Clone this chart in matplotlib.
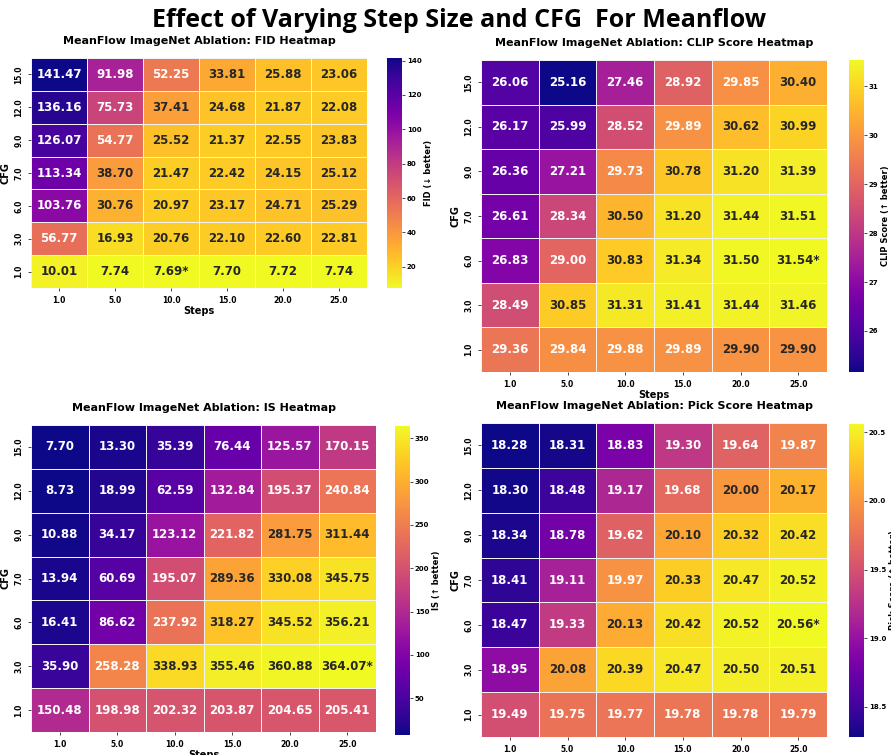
import numpy as np
import matplotlib
matplotlib.use('Agg')
import matplotlib.pyplot as plt
import seaborn as sns

steps = [1.0, 5.0, 10.0, 15.0, 20.0, 25.0]
cfgs = [15.0, 12.0, 9.0, 7.0, 6.0, 3.0, 1.0]

fid = [[141.47, 91.98, 52.25, 33.81, 25.88, 23.06],
       [136.16, 75.73, 37.41, 24.68, 21.87, 22.08],
       [126.07, 54.77, 25.52, 21.37, 22.55, 23.83],
       [113.34, 38.70, 21.47, 22.42, 24.15, 25.12],
       [103.76, 30.76, 20.97, 23.17, 24.71, 25.29],
       [56.77, 16.93, 20.76, 22.10, 22.60, 22.81],
       [10.01, 7.74, 7.69, 7.70, 7.72, 7.74]]

clip = [[26.06, 25.16, 27.46, 28.92, 29.85, 30.40],
        [26.17, 25.99, 28.52, 29.89, 30.62, 30.99],
        [26.36, 27.21, 29.73, 30.78, 31.20, 31.39],
        [26.61, 28.34, 30.50, 31.20, 31.44, 31.51],
        [26.83, 29.00, 30.83, 31.34, 31.50, 31.54],
        [28.49, 30.85, 31.31, 31.41, 31.44, 31.46],
        [29.36, 29.84, 29.88, 29.89, 29.90, 29.90]]

inception = [[7.70, 13.30, 35.39, 76.44, 125.57, 170.15],
             [8.73, 18.99, 62.59, 132.84, 195.37, 240.84],
             [10.88, 34.17, 123.12, 221.82, 281.75, 311.44],
             [13.94, 60.69, 195.07, 289.36, 330.08, 345.75],
             [16.41, 86.62, 237.92, 318.27, 345.52, 356.21],
             [35.90, 258.28, 338.93, 355.46, 360.88, 364.07],
             [150.48, 198.98, 202.32, 203.87, 204.65, 205.41]]

pick = [[18.28, 18.31, 18.83, 19.30, 19.64, 19.87],
        [18.30, 18.48, 19.17, 19.68, 20.00, 20.17],
        [18.34, 18.78, 19.62, 20.10, 20.32, 20.42],
        [18.41, 19.11, 19.97, 20.33, 20.47, 20.52],
        [18.47, 19.33, 20.13, 20.42, 20.52, 20.56],
        [18.95, 20.08, 20.39, 20.47, 20.50, 20.51],
        [19.49, 19.75, 19.77, 19.78, 19.78, 19.79]]

W, H = 891, 755
fig = plt.figure(figsize=(W / 100, H / 100), dpi=100)


def box(x0, y0, x1, y1):
    return [x0 / W, 1 - y1 / H, (x1 - x0) / W, (y1 - y0) / H]


def labels(data, best):
    arr = np.array(data)
    out = np.array([[f'{v:.2f}' for v in row] for row in arr], dtype=object)
    if best == 'min':
        i, j = np.unravel_index(arr.argmin(), arr.shape)
    else:
        i, j = np.unravel_index(arr.argmax(), arr.shape)
    out[i, j] = out[i, j] + '*'
    return out


panels = [
    (fid, 'plasma_r', 'min', 'FID Heatmap', 'FID (↓ better)', (31, 58, 367, 288), (387, 58, 402, 288)),
    (clip, 'plasma', 'max', 'CLIP Score Heatmap', 'CLIP Score (↑ better)', (481, 60, 827, 372), (849, 60, 864, 372)),
    (inception, 'plasma', 'max', 'IS Heatmap', 'IS (↑ better)', (31, 425, 376, 732), (395, 426, 410, 735)),
    (pick, 'plasma', 'max', 'Pick Score Heatmap', 'Pick Score (↑ better)', (481, 423, 827, 737), (849, 424, 864, 737)),
]

for data, cmap, best, name, cb_label, hb, cb in panels:
    ax = fig.add_axes(box(*hb))
    cax = fig.add_axes(box(*cb))
    sns.heatmap(np.array(data), ax=ax, cbar_ax=cax, cmap=cmap,
                annot=labels(data, best), fmt='',
                annot_kws={'fontsize': 8.5, 'fontweight': 'bold'},
                linewidths=0.6, linecolor='#f2f2f2',
                xticklabels=steps, yticklabels=cfgs)
    ax.set_title(f'MeanFlow ImageNet Ablation: {name}', fontsize=8, fontweight='bold', pad=10)
    ax.set_xlabel('Steps', fontsize=7, fontweight='bold', labelpad=1)
    ax.set_ylabel('CFG', fontsize=7, fontweight='bold', labelpad=3)
    ax.tick_params(axis='both', labelsize=5.5, length=2, width=0.5)
    for t in ax.get_xticklabels():
        t.set_fontweight('bold')
        t.set_rotation(0)
    for t in ax.get_yticklabels():
        t.set_fontweight('bold')
        t.set_rotation(90)
        t.set_va('center')
    cax.tick_params(labelsize=5, length=2, width=0.5, pad=1.5)
    for t in cax.get_yticklabels():
        t.set_fontweight('bold')
    cax.set_ylabel(cb_label, fontsize=6, fontweight='bold', labelpad=2)
    for s in cax.spines.values():
        s.set_visible(False)

fig.text(0.515, 0.973, 'Effect of Varying Step Size and CFG  For Meanflow',
         ha='center', va='center', fontsize=18, fontweight='bold',
         family=['Open Sans', 'DejaVu Sans'])

fig.savefig('out.png', dpi=100)
